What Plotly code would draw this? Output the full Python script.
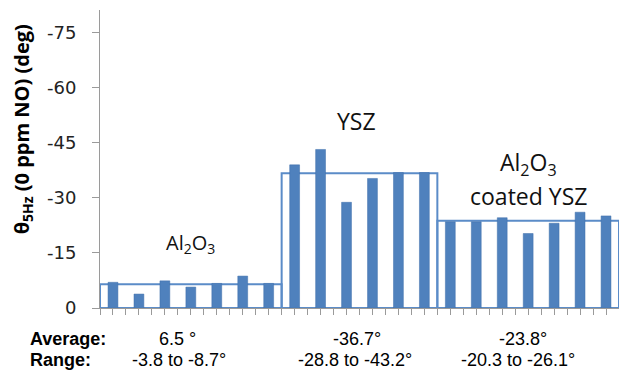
import plotly.graph_objects as go

# ---- data ----
group_labels = ["Al<sub>2</sub>O<sub>3</sub>", "YSZ", "Al<sub>2</sub>O<sub>3</sub>"]
al2o3_vals = [-7.0, -3.8, -7.4, -5.7, -6.7, -8.7, -6.7]
ysz_vals = [-39.0, -43.2, -28.8, -35.3, -36.9, -36.9]
coated_vals = [-23.5, -23.5, -24.6, -20.3, -23.1, -26.1, -25.1]
avg_vals = [-6.5, -36.7, -23.8]
avg_text = ["6.5 °", "-36.7°", "-23.8°"]
range_text = ["-3.8 to -8.7°", "-28.8 to -43.2°", "-20.3 to -26.1°"]
y_ticks = [0, -15, -30, -45, -60, -75]
y_ticktext = ["0", "-15", "-30", "-45", "-60", "-75"]

BLUE = "#4F81BD"
groups = [al2o3_vals, ysz_vals, coated_vals]
all_vals = al2o3_vals + ysz_vals + coated_vals
xs = list(range(len(all_vals)))

# group boxes (average outline)
starts, widths = [], []
s = -0.5
for g in groups:
    starts.append(s)
    widths.append(len(g))
    s += len(g)
centers = [a + w / 2 for a, w in zip(starts, widths)]

fig = go.Figure()
fig.add_trace(go.Bar(
    x=centers, y=avg_vals, width=widths,
    marker=dict(color="rgba(0,0,0,0)", line=dict(color="#5B8CC8", width=2)),
    showlegend=False, hoverinfo="skip"))
fig.add_trace(go.Bar(
    x=xs, y=all_vals, width=0.38,
    marker=dict(color=BLUE, line=dict(color="#3F6FAA", width=0.5)),
    showlegend=False))

# group labels
fig.add_annotation(x=3.0, y=-17.5, text=group_labels[0], showarrow=False,
                   font=dict(family="Open Sans", size=20, color="#111"))
fig.add_annotation(x=9.4, y=-51.0, text=group_labels[1], showarrow=False,
                   font=dict(family="Open Sans", size=23, color="#111"))
fig.add_annotation(x=16.0, y=-39.5, text=group_labels[2], showarrow=False,
                   font=dict(family="Open Sans", size=23, color="#111"))
fig.add_annotation(x=16.0, y=-30.5, text="coated YSZ", showarrow=False,
                   font=dict(family="Open Sans", size=23, color="#111"))

# bottom summary text
fig.add_annotation(xref="paper", yref="paper", x=-0.139, y=-0.104,
                   xanchor="left", yanchor="middle",
                   text="<b>Average:</b>", showarrow=False,
                   font=dict(family="Liberation Sans", size=18, color="#000"))
fig.add_annotation(xref="paper", yref="paper", x=-0.139, y=-0.176,
                   xanchor="left", yanchor="middle",
                   text="<b>Range:</b>", showarrow=False,
                   font=dict(family="Liberation Sans", size=18, color="#000"))
avg_x = [2.47, 9.4, 15.8]
rng_x = [2.54, 9.33, 15.6]
for i in range(3):
    fig.add_annotation(x=avg_x[i], yref="paper", y=-0.104, yanchor="middle",
                       text=avg_text[i], showarrow=False,
                       font=dict(family="Liberation Sans", size=18, color="#000"))
    fig.add_annotation(x=rng_x[i], yref="paper", y=-0.176, yanchor="middle",
                       text=range_text[i], showarrow=False,
                       font=dict(family="Liberation Sans", size=18, color="#000"))

# y-axis title
fig.add_annotation(xref="paper", yref="paper", x=-0.150, y=0.60, textangle=-90,
                   xanchor="center", yanchor="middle",
                   text="<b>θ<sub>5Hz</sub> (0 ppm NO) (deg)</b>", showarrow=False,
                   font=dict(family="Open Sans", size=20, color="#000"))

tick_x = [i * 0.5 - 0.5 for i in range(41)]
fig.update_layout(
    width=619, height=370,
    margin=dict(l=100, r=0, t=10, b=62),
    paper_bgcolor="white", plot_bgcolor="white",
    barmode="overlay",
    xaxis=dict(range=[-0.5, 19.5], showgrid=False, zeroline=False,
               showline=True, linecolor="#9A9A9A", linewidth=1,
               tickmode="array", tickvals=tick_x, ticktext=[""] * len(tick_x),
               ticks="outside", ticklen=6, tickcolor="#9A9A9A"),
    yaxis=dict(range=[0, -81.2], showgrid=False, zeroline=False,
               showline=True, linecolor="#9A9A9A", linewidth=1,
               tickmode="array", tickvals=y_ticks, ticktext=y_ticktext,
               ticks="outside", ticklen=7, tickcolor="#9A9A9A",
               ticklabelstandoff=12,
               tickfont=dict(family="DejaVu Sans", size=18, color="#222")),
)

fig.write_html("out.html", config={"displayModeBar": False},
               post_script="document.body.style.margin='0';document.body.style.padding='0';")
